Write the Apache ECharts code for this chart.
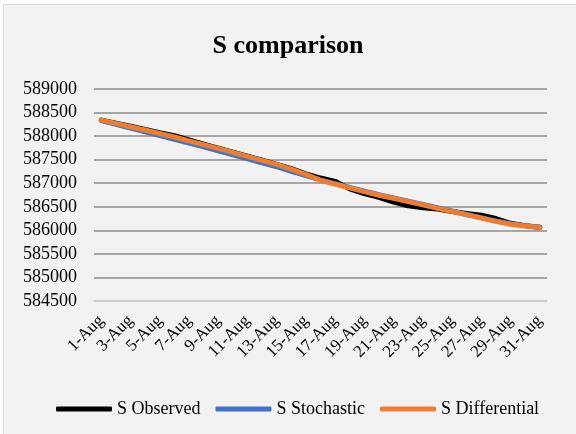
<!DOCTYPE html>
<html>
<head>
<meta charset="utf-8">
<title>S comparison</title>
<script src="https://cdn.jsdelivr.net/npm/echarts@6/dist/echarts.min.js"></script>
<style>
  html, body { margin: 0; padding: 0; background: #ffffff; }
  #chart { width: 576px; height: 434px; }
</style>
</head>
<body>
<div id="chart"></div>
<script>
// Daily dates in August
const days = ['1-Aug','2-Aug','3-Aug','4-Aug','5-Aug','6-Aug','7-Aug','8-Aug','9-Aug','10-Aug',
  '11-Aug','12-Aug','13-Aug','14-Aug','15-Aug','16-Aug','17-Aug','18-Aug','19-Aug','20-Aug',
  '21-Aug','22-Aug','23-Aug','24-Aug','25-Aug','26-Aug','27-Aug','28-Aug','29-Aug','30-Aug','31-Aug'];

// S Observed
const observed = [588340, 588275, 588210, 588140, 588070, 588010, 587920, 587830, 587745, 587660,
  587575, 587490, 587400, 587310, 587200, 587110, 587040, 586880, 586780, 586700,
  586600, 586520, 586480, 586450, 586400, 586360, 586320, 586250, 586150, 586100, 586060];

// S Stochastic
const stochastic = [588330, 588250, 588170, 588090, 588010, 587930, 587850, 587770, 587690, 587605,
  587520, 587435, 587350, 587250, 587160, 587070, 586990, 586910, 586830, 586755,
  586690, 586620, 586550, 586480, 586410, 586340, 586270, 586200, 586140, 586100, 586070];

// S Differential
const differential = [588340, 588270, 588200, 588130, 588055, 587980, 587900, 587820, 587740, 587655,
  587570, 587485, 587400, 587300, 587190, 587060, 586980, 586900, 586820, 586745,
  586680, 586610, 586540, 586470, 586400, 586330, 586260, 586190, 586130, 586090, 586060];

// Value axis range and step
const yMin = 584500;
const yMax = 589000;
const yStep = 500;

const serif = "'Liberation Serif', 'Times New Roman', serif";

const chart = echarts.init(document.getElementById('chart'), null, { renderer: 'canvas' });

function lineSeries(name, data, color, z) {
  return {
    name: name,
    type: 'line',
    data: data,
    z: z,
    symbol: 'none',
    smooth: false,
    lineStyle: { color: color, width: 5, cap: 'round', join: 'round' },
    itemStyle: { color: color },
    emphasis: { disabled: true }
  };
}

chart.setOption({
  backgroundColor: '#ffffff',
  animation: false,
  graphic: [{
    type: 'rect',
    z: -10,
    silent: true,
    shape: { x: 3.5, y: 4.5, width: 620, height: 480 },
    style: { fill: '#f2f2f2', stroke: '#d9d9d9', lineWidth: 1 }
  }],
  title: {
    text: 'S comparison',
    left: 'center',
    top: 28,
    textStyle: { fontFamily: serif, fontSize: 26, fontWeight: 'bold', color: '#000000' }
  },
  legend: {
    left: 51,
    top: 395,
    itemWidth: 56,
    itemHeight: 5,
    itemGap: 15,
    icon: 'roundRect',
    textStyle: { fontFamily: serif, fontSize: 18, color: '#000000' },
    data: ['S Observed', 'S Stochastic', 'S Differential']
  },
  grid: { left: 94, right: 29, top: 89, bottom: 133, containLabel: false },
  xAxis: {
    type: 'category',
    data: days,
    boundaryGap: true,
    axisLine: { show: true, lineStyle: { color: '#d9d9d9', width: 1.5 } },
    axisTick: { show: false },
    axisLabel: {
      interval: 1,
      rotate: 45,
      margin: 17,
      fontFamily: serif,
      fontSize: 17,
      color: '#000000'
    },
    splitLine: { show: false }
  },
  yAxis: {
    type: 'value',
    min: yMin,
    max: yMax,
    interval: yStep,
    axisLine: { show: false },
    axisTick: { show: false },
    axisLabel: {
      margin: 17,
      fontFamily: serif,
      fontSize: 18,
      color: '#000000',
      formatter: function (v) { return String(v); }
    },
    splitLine: { show: true, lineStyle: { color: '#8c8c8c', width: 1.5 } }
  },
  series: [
    lineSeries('S Observed', observed, '#000000', 3),
    lineSeries('S Stochastic', stochastic, '#4472c4', 4),
    lineSeries('S Differential', differential, '#ed7d31', 5)
  ]
});
</script>
</body>
</html>
